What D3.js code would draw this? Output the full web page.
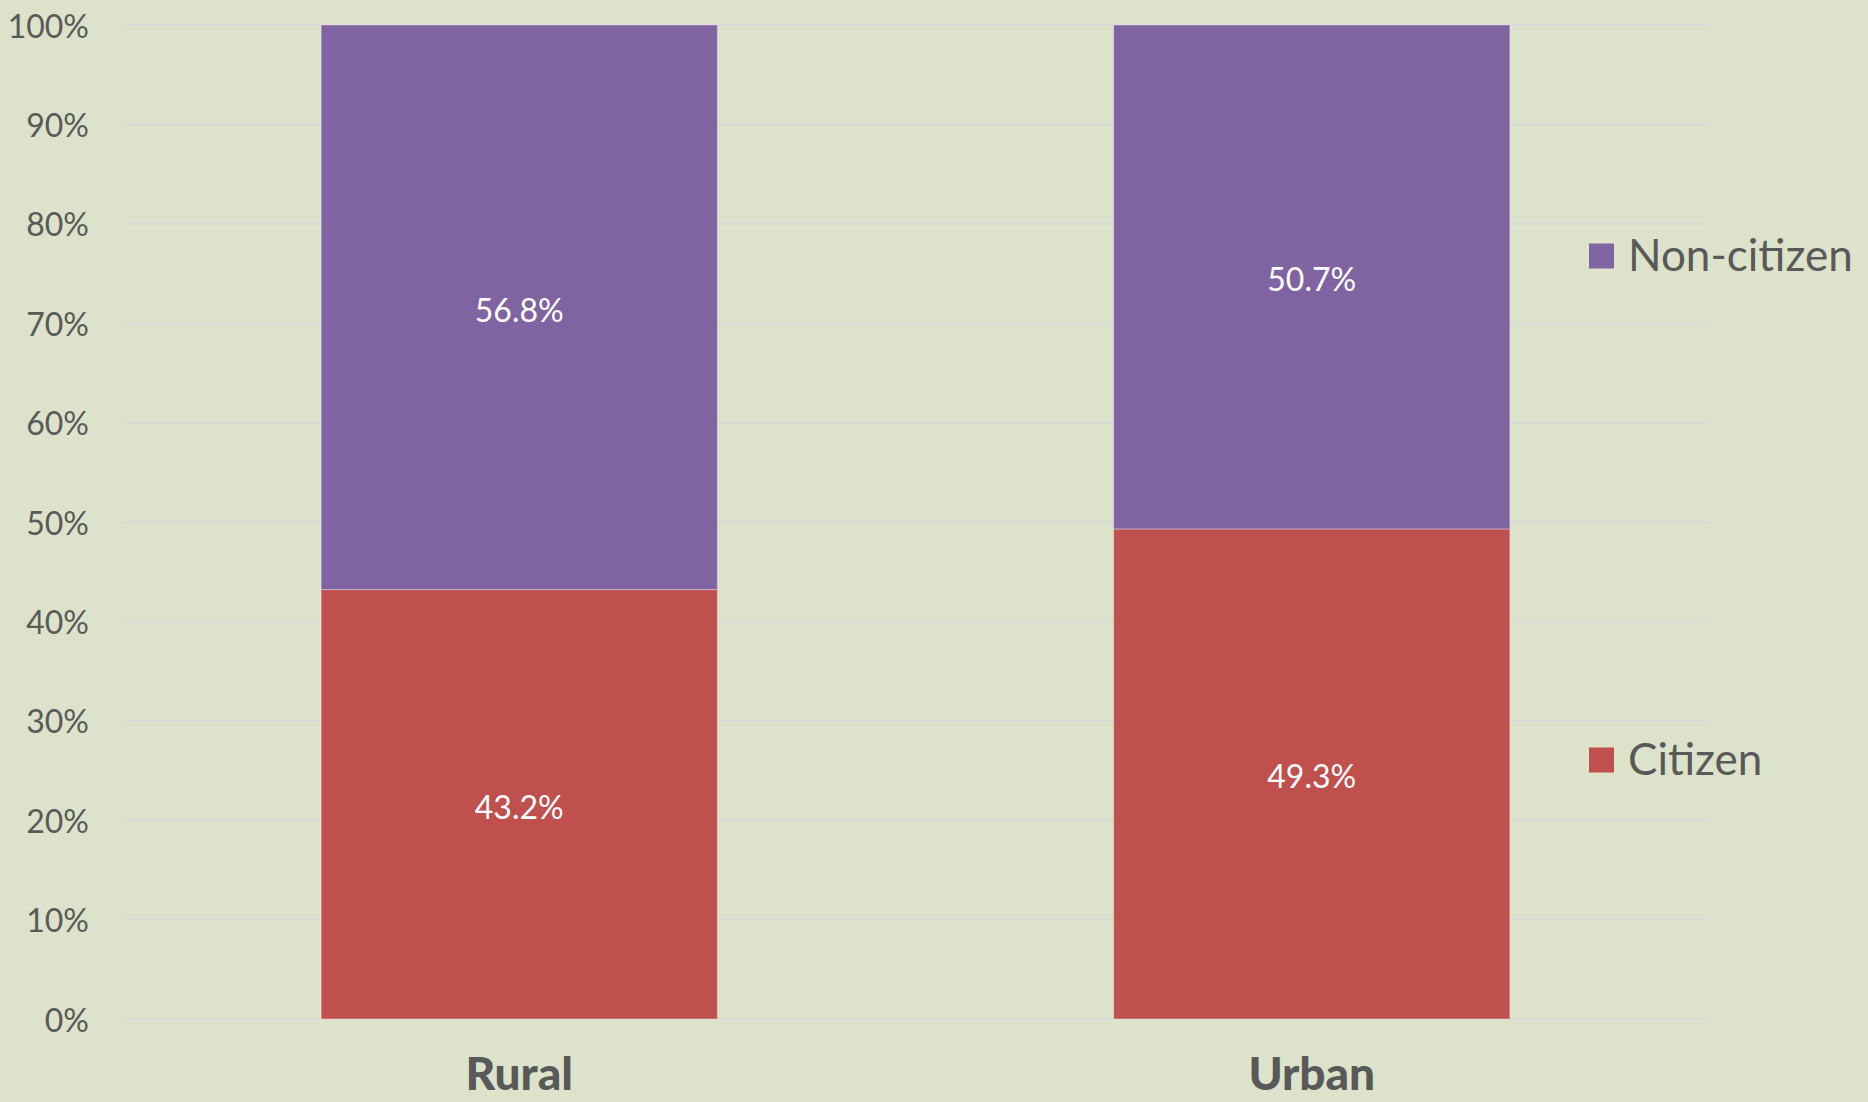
<!DOCTYPE html>
<html>
<head>
<meta charset="utf-8">
<script src="https://cdn.jsdelivr.net/npm/d3@7"></script>
<style>
html,body{margin:0;padding:0;background:#DCE3CA;}
svg{display:block;}
text{font-family:"Lato","Open Sans",sans-serif;}
</style>
</head>
<body>
<svg id="chart" width="1868" height="1102"></svg>
<script>
const categories = ["Rural", "Urban"];
const citizen = [43.2, 49.3];
const nonCitizen = [56.8, 50.7];
const seriesNames = ["Citizen", "Non-citizen"];
const tickValues = [0, 10, 20, 30, 40, 50, 60, 70, 80, 90, 100];

(function () {
const colors = {"Citizen": "#C0504D", "Non-citizen": "#8064A2"};
const textColor = "#595959";

const svg = d3.select("#chart");
const plotLeft = 123, plotRight = 1708, plotTop = 25, plotBottom = 1019;

const x = d3.scaleBand().domain(categories).range([plotLeft, plotRight])
  .paddingInner(0.5).paddingOuter(0.25);
const y = d3.scaleLinear().domain([0, 100]).range([plotBottom, plotTop]);

// gridlines
svg.append("g").selectAll("line").data(tickValues).join("line")
  .attr("x1", plotLeft).attr("x2", plotRight)
  .attr("y1", d => y(d)).attr("y2", d => y(d))
  .attr("stroke", "#D9D9D9").attr("stroke-width", 2);

// y axis labels
const yAxis = d3.axisLeft(y).tickValues(tickValues).tickFormat(d => d + "%").tickSize(0).tickPadding(0);
const ya = svg.append("g").attr("transform", "translate(89,0)").call(yAxis);
ya.select(".domain").remove();
ya.selectAll("text").attr("font-size", 32).attr("fill", textColor)
  .style("font-family", "Lato, sans-serif").attr("dy", "0.38em");

// stacked data
const rows = categories.map((c, i) => ({cat: c, "Citizen": citizen[i], "Non-citizen": nonCitizen[i]}));
const stack = d3.stack().keys(seriesNames)(rows);

const layers = svg.append("g").selectAll("g").data(stack).join("g")
  .attr("fill", d => colors[d.key]);
layers.selectAll("rect").data(d => d).join("rect")
  .attr("x", d => x(d.data.cat))
  .attr("width", x.bandwidth())
  .attr("y", d => y(d[1]))
  .attr("height", d => y(d[0]) - y(d[1]))
  .attr("stroke", "rgba(255,255,255,0.35)")
  .attr("stroke-width", 1);

// data labels
layers.selectAll("text").data(d => d.map(v => ({v, key: d.key}))).join("text")
  .attr("x", d => x(d.v.data.cat) + x.bandwidth() / 2)
  .attr("y", d => (y(d.v[0]) + y(d.v[1])) / 2)
  .attr("dy", "0.45em")
  .attr("text-anchor", "middle")
  .attr("fill", "#FFFFFF")
  .attr("font-size", 32)
  .text(d => (d.v[1] - d.v[0]).toFixed(1) + "%");

// x axis labels
const xAxis = d3.axisBottom(x).tickSize(0).tickPadding(0);
const xa = svg.append("g").attr("transform", "translate(0,1090)").call(xAxis);
xa.select(".domain").remove();
xa.selectAll("text").attr("font-size", 46).attr("font-weight", "900")
  .attr("fill", textColor).attr("dy", 0).style("font-family", "Lato, sans-serif");

// legend
const legendItems = [
  {name: "Non-citizen", cy: 256},
  {name: "Citizen", cy: 760}
];
const lg = svg.append("g").selectAll("g").data(legendItems).join("g");
lg.append("rect").attr("x", 1589).attr("y", d => d.cy - 12.5)
  .attr("width", 25).attr("height", 25).attr("fill", d => colors[d.name]);
lg.append("text").attr("x", 1628).attr("y", d => d.cy).attr("dy", "0.35em")
  .attr("font-size", 44).attr("fill", textColor).text(d => d.name);
})();
</script>
</body>
</html>
